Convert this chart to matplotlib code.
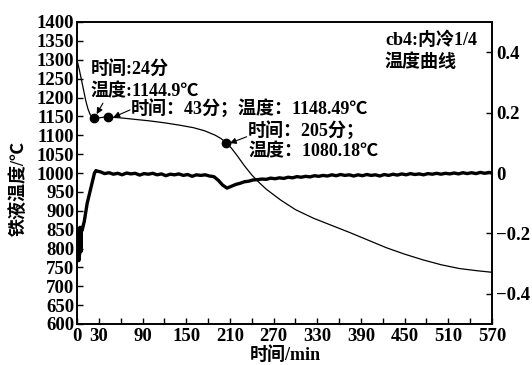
import numpy as np
import matplotlib
matplotlib.use("Agg")
import matplotlib.pyplot as plt

plt.rcParams['font.family'] = ['Liberation Serif', 'Noto Sans CJK SC']
plt.rcParams['font.weight'] = 'bold'
plt.rcParams['axes.unicode_minus'] = True

# 铁液温度曲线 (min, ℃)
temp_t = [0, 3, 6, 9, 12, 15, 18, 21, 24, 30, 37, 43, 60, 80, 100, 120, 140, 160,
          175, 190, 198, 205, 212, 220, 230, 240, 250, 260, 280, 300, 325, 350, 375,
          400, 425, 450, 475, 500, 525, 550, 570]
temp_v = [1300, 1275, 1248, 1220, 1192, 1170, 1155, 1148, 1144.9, 1146, 1148, 1148.49,
          1146, 1142, 1138, 1133, 1127, 1120, 1112, 1100, 1091, 1080.18, 1066, 1046,
          1019, 995, 975, 957, 928, 903, 880, 861, 842, 822, 802, 785, 770, 757, 747,
          741, 737]

# 冷却速率曲线 (右轴)
rate_t = [1, 1.5, 2, 2.5, 3, 3.5, 4, 4.5, 5, 5.5, 6, 7, 8, 10, 12, 14, 16, 18, 20,
          22, 24, 26, 28,
          32, 38, 44, 50, 56, 62, 68, 74, 80, 86, 92, 98, 104, 110, 116, 122, 128,
          134, 140, 146, 152, 158, 164, 170, 176, 182, 188, 194, 200, 206, 212, 218,
          224, 230, 236, 242, 248, 254, 260, 266, 272, 278, 284, 290, 296, 302, 308,
          314, 320, 326, 332, 338, 344, 350, 356, 362, 368, 374, 380, 386, 392, 398,
          404, 410, 416, 422, 428, 434, 440, 446, 452, 458, 464, 470, 476, 482, 488,
          494, 500, 506, 512, 518, 524, 530, 536, 542, 548, 554, 560, 566, 570]
rate_v = [-0.20, -0.28, -0.19, -0.29, -0.22, -0.27, -0.18, -0.25, -0.19, -0.26, -0.18,
          -0.19, -0.18, -0.16, -0.13, -0.10, -0.08, -0.06, -0.04, -0.02, 0.0, 0.008, 0.006,
          0.004, -0.002, 0.001, -0.004, -0.001, -0.006, 0.000, -0.003, -0.001, -0.007,
          -0.002, -0.004, -0.001, -0.006, -0.003, -0.009, -0.004, -0.006, -0.003, -0.008,
          -0.005, -0.011, -0.006, -0.008, -0.006, -0.010, -0.012, -0.024, -0.040, -0.050,
          -0.044, -0.038, -0.034, -0.029, -0.027, -0.023, -0.022, -0.020, -0.021, -0.017,
          -0.019, -0.016, -0.018, -0.014, -0.016, -0.012, -0.014, -0.011, -0.013, -0.009,
          -0.011, -0.008, -0.010, -0.006, -0.009, -0.005, -0.008, -0.006, -0.010, -0.006,
          -0.009, -0.005, -0.008, -0.006, -0.010, -0.005, -0.008, -0.004, -0.007, -0.003,
          -0.006, -0.002, -0.005, -0.003, -0.006, -0.002, -0.004, -0.001, -0.004, -0.001,
          -0.003, 0.000, -0.003, 0.001, -0.002, 0.001, -0.002, 0.002, -0.001, 0.002, 0.000]

mark_t = [24, 43, 205]
mark_v = [1144.9, 1148.49, 1080.18]

xticks = [0, 30, 90, 150, 210, 270, 330, 390, 450, 510, 570]
xminor = [60, 120, 180, 240, 300, 360, 420, 480, 540]
yticks = list(range(600, 1401, 50))
rticks = [-0.4, -0.2, 0, 0.2, 0.4]
rlabels = ['\u22120.4', '\u22120.2', '0', '0.2', '0.4']

fig = plt.figure(figsize=(5.32, 3.65), dpi=100)
ax = fig.add_axes([77 / 532, 41 / 365, 415 / 532, 302 / 365])
ax2 = ax.twinx()

ax.plot(temp_t, temp_v, color='k', lw=0.9)
ax.plot(mark_t, mark_v, 'o', color='k', ms=6)
ax2.plot(rate_t, rate_v, color='k', lw=2.4)

ax.set_xlim(0, 570)
ax.set_ylim(600, 1400)
ax2.set_ylim(-0.5, 0.5)
ax.set_xticks(xticks)
ax.set_xticks(xminor, minor=True)
ax.set_yticks(yticks)
ax2.set_yticks(rticks)
ax2.set_yticklabels(rlabels)

for a in (ax, ax2):
    for s in a.spines.values():
        s.set_linewidth(1.2)
ax.tick_params(which='both', direction='in', length=4, width=1.0, labelsize=13.5)
ax.tick_params(axis='x', pad=3)
ax.tick_params(axis='y', pad=2)
ax2.tick_params(direction='in', length=4, width=1.0, labelsize=13.5, pad=3)

# 轴标题
fig.text(285 / 532, 1 - 355 / 365, '时间/min', fontsize=13, ha='center', va='center')
fig.text(19 / 532, 1 - 188 / 365, '铁液温度/℃', fontsize=13, rotation=90,
         ha='center', va='center')

fs = 13
ax.text(18.8, 1273, '时间:24分', fontsize=fs, va='center')
ax.text(18.8, 1215, '温度:1144.9℃', fontsize=fs, va='center')
ax.text(74, 1172, '时间：43分；温度：1148.49℃', fontsize=fs, va='center')
ax.text(235, 1114, '时间：205分；', fontsize=fs, va='center')
ax.text(235, 1056, '温度：1080.18℃', fontsize=fs, va='center')
ax.text(423, 1352, 'cb4:内冷1/4', fontsize=fs, va='center')
ax.text(423, 1294, '温度曲线', fontsize=fs, va='center')

arw = dict(arrowstyle='-|>', color='k', lw=0.8, mutation_scale=9, shrinkA=0, shrinkB=0)
ax.annotate('', xy=(27, 1156), xytext=(35.6, 1185), arrowprops=arw)
ax.annotate('', xy=(50, 1148), xytext=(72.8, 1167), arrowprops=arw)
ax.annotate('', xy=(210, 1079), xytext=(233, 1096), arrowprops=arw)

fig.savefig('out.png', dpi=100)
